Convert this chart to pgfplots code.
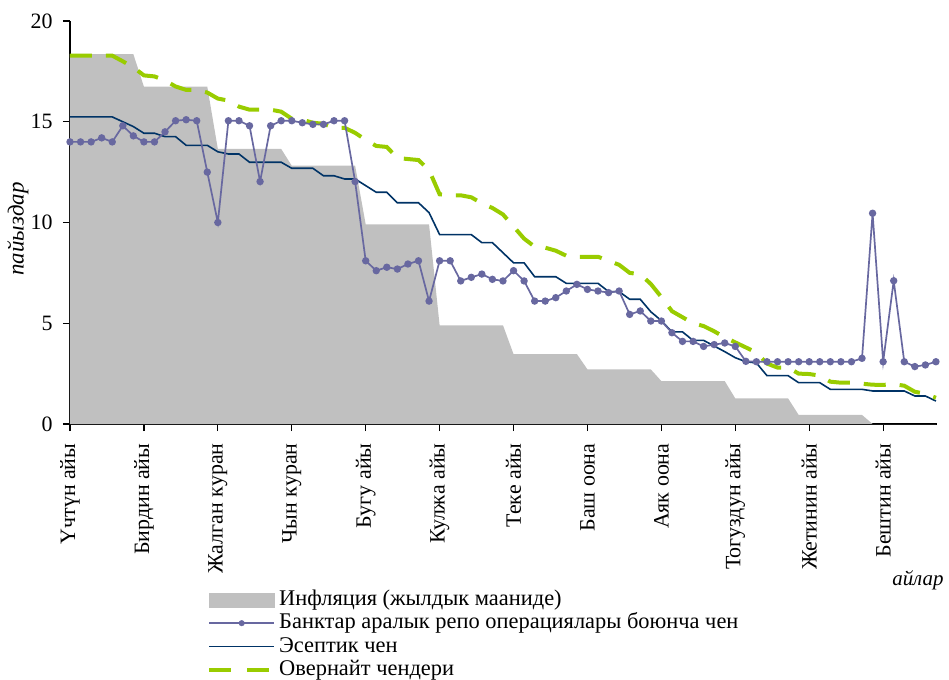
\documentclass[border=0pt]{standalone}
\usepackage{fontspec}
\setmainfont{Liberation Serif}
\usepackage{pgfplots}
\usepackage{pgfplotstable}
\pgfplotsset{compat=1.18}
\definecolor{inflgray}{RGB}{192,192,192}
\definecolor{repocol}{RGB}{104,104,160}
\definecolor{disccol}{RGB}{0,51,102}
\definecolor{ovncol}{RGB}{153,204,0}
\pgfplotstableread{
x infl repo disc ovn
0 18.35 14.0 15.24 18.28
1 18.35 14.0 15.24 18.28
2 18.35 14.0 15.24 18.28
3 18.35 14.2 15.24 18.28
4 18.35 14.0 15.24 18.28
5 18.35 14.8 15.0 18.0
6 18.35 14.3 14.76 17.7
7 16.74 14.0 14.43 17.3
8 16.74 14.0 14.43 17.25
9 16.74 14.5 14.26 17.05
10 16.74 15.05 14.26 16.75
11 16.74 15.1 13.83 16.58
12 16.74 15.05 13.83 16.58
13 16.74 12.5 13.83 16.45
14 13.65 10.0 13.51 16.15
15 13.65 15.05 13.4 16.05
16 13.65 15.05 13.4 15.75
17 13.65 14.8 12.99 15.6
18 13.65 12.03 12.99 15.6
19 13.65 14.8 12.99 15.6
20 13.65 15.05 12.99 15.5
21 12.82 15.05 12.69 15.15
22 12.82 14.95 12.69 15.1
23 12.82 14.87 12.69 14.95
24 12.82 14.87 12.32 14.9
25 12.82 15.05 12.32 14.7
26 12.82 15.05 12.16 14.7
27 12.82 12.03 12.16 14.45
28 9.91 8.1 11.83 14.1
29 9.91 7.61 11.5 13.8
30 9.91 7.78 11.5 13.75
31 9.91 7.69 10.98 13.2
32 9.91 7.94 10.98 13.15
33 9.91 8.1 10.98 13.1
34 9.91 6.1 10.49 12.6
35 4.9 8.1 9.4 11.4
36 4.9 8.1 9.4 11.35
37 4.9 7.1 9.4 11.35
38 4.9 7.28 9.4 11.25
39 4.9 7.44 9.0 10.95
40 4.9 7.18 9.0 10.72
41 4.9 7.1 8.5 10.4
42 3.47 7.61 8.0 9.8
43 3.47 7.1 8.0 9.2
44 3.47 6.1 7.31 8.8
45 3.47 6.1 7.31 8.75
46 3.47 6.27 7.31 8.6
47 3.47 6.6 6.98 8.35
48 3.47 6.93 6.98 8.3
49 2.71 6.68 6.98 8.3
50 2.71 6.6 6.98 8.3
51 2.71 6.52 6.57 8.1
52 2.71 6.6 6.57 7.9
53 2.71 5.44 6.19 7.5
54 2.71 5.61 6.19 7.43
55 2.71 5.11 5.57 6.95
56 2.13 5.11 5.13 6.3
57 2.13 4.53 4.57 5.6
58 2.13 4.1 4.57 5.3
59 2.13 4.1 4.15 5.0
60 2.13 3.85 4.15 4.86
61 2.13 3.94 3.87 4.6
62 2.13 4.02 3.59 4.3
63 1.27 3.85 3.29 4.05
64 1.27 3.11 3.09 3.8
65 1.27 3.09 3.03 3.55
66 1.27 3.09 2.4 3.0
67 1.27 3.09 2.4 2.8
68 1.27 3.09 2.4 2.8
69 0.45 3.09 2.05 2.5
70 0.45 3.09 2.05 2.48
71 0.45 3.09 2.05 2.4
72 0.45 3.09 1.72 2.1
73 0.45 3.09 1.72 2.05
74 0.45 3.09 1.72 2.05
75 0.45 3.26 1.72 2.0
76 0 10.46 1.64 1.95
77 0 3.09 1.64 1.94
78 0 7.11 1.64 1.98
79 0 3.09 1.64 1.9
80 0 2.85 1.39 1.6
81 0 2.93 1.39 1.5
82 0 3.09 1.14 1.3
}\datatable
\begin{document}
\begin{tikzpicture}
\useasboundingbox (-70bp,-256bp) rectangle (879bp,424bp);
\begin{axis}[
  scale only axis,
  width=867bp, height=403bp,
  xmin=0, xmax=82.1, ymin=0, ymax=20,
  axis lines=left,
  axis line style={line width=1.6bp, black, -},
  tick align=outside,
  tick style={line width=1.2bp, black},
  major tick length=7bp,
  ytick={0,5,10,15,20},
  xtick={0,7,14,21,28,35,42,49,56,63,70,77},
  xticklabels={Үчтүн айы, Бирдин айы, Жалган куран, Чын куран, Бугу айы, Кулжа айы, Теке айы, Баш оона, Аяк оона, Тогуздун айы, Жетинин айы, Бештин айы},
  /pgf/number format/assume math mode=true,
  xticklabel style={font=\fontsize{22}{26}\selectfont, rotate=90, anchor=east},
  xticklabel shift=9bp,
  yticklabel style={font=\fontsize{22}{26}\selectfont, anchor=east, xshift=-7bp},
  xlabel={айлар},
  ylabel={пайыздар},
  xlabel style={font=\fontsize{21}{24}\selectfont\itshape, at={(axis description cs:0.978,-0.387)}, anchor=center},
  ylabel style={font=\fontsize{23}{26}\selectfont\itshape, at={(axis description cs:-0.06,0.484)}, anchor=center, rotate=0},
  legend style={at={(axis description cs:0.158,-0.407)}, anchor=north west,
    draw=none, fill=none, inner sep=0pt, row sep=0pt,
    font=\fontsize{22.5}{25}\selectfont, cells={anchor=west},
    nodes={inner xsep=3bp, inner ysep=1bp, text height=16.3bp, text depth=5bp}},
  legend cell align=left,
  clip=false,
]
\addplot[fill=inflgray, draw=none, forget plot] table[x=x, y=infl] {\datatable} \closedcycle;
\addplot[disccol, line width=1.6bp, forget plot] table[x=x, y=disc] {\datatable};
\addplot[ovncol, line width=4bp, dash pattern=on 22bp off 14bp, forget plot] table[x=x, y=ovn] {\datatable};
\addplot[repocol, line width=1.7bp, mark=*, mark size=2.8bp, mark options={fill=repocol, draw=repocol, solid}, forget plot] table[x=x, y=repo] {\datatable};
\addlegendimage{legend image code/.code={\fill[inflgray] (0bp,-7bp) rectangle (65bp,7bp);}}
\addlegendentry{Инфляция (жылдык мааниде)}
\addlegendimage{legend image code/.code={\draw[repocol, line width=1.6bp] (0bp,0bp) -- (65bp,0bp); \fill[repocol] (32.5bp,0bp) circle (2.8bp);}}
\addlegendentry{Банктар аралык репо операциялары боюнча чен}
\addlegendimage{legend image code/.code={\draw[disccol, line width=1.6bp] (0bp,0bp) -- (65bp,0bp);}}
\addlegendentry{Эсептик чен}
\addlegendimage{legend image code/.code={\draw[ovncol, line width=4bp, dash pattern=on 22bp off 16bp] (0bp,0bp) -- (65bp,0bp);}}
\addlegendentry{Овернайт чендери}
\end{axis}
\end{tikzpicture}
\end{document}
